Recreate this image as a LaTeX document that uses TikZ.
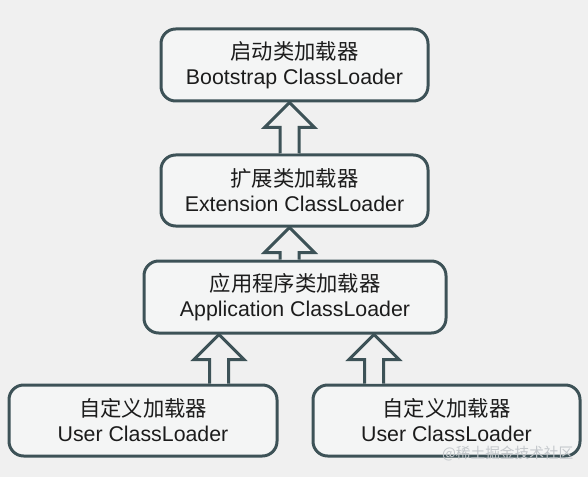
\documentclass[tikz,border=0pt]{standalone}
\usepackage{fontspec}
\setmainfont{Liberation Sans}
\newfontfamily\cjk{Noto Sans CJK SC}
\usetikzlibrary{calc}
\definecolor{bgc}{HTML}{F0F0F0}
\definecolor{boxfill}{HTML}{F4F5F5}
\definecolor{edge}{HTML}{3D5257}
\definecolor{txt}{HTML}{1C1C1C}
\definecolor{wm}{HTML}{C4C8CC}
\tikzset{
  loaderbox/.style={draw=edge, line width=2.25pt, fill=boxfill, rounded corners=11pt,
    align=center, text=txt, font=\fontsize{16}{18.75}\selectfont, inner sep=0pt},
  fat/.style={draw=edge, line width=2.25pt, fill=bgc, line join=miter}
}
\newcommand\fatup[2]{%
  \draw[fat] let \p1=(#1), \p2=(#2) in
    (\x1-7.125pt,\y1) -- (\x1-7.125pt,\y2-18.75pt) -- (\x1-18.75pt,\y2-18.75pt)
    -- (\x2,\y2) -- (\x1+18.75pt,\y2-18.75pt) -- (\x1+7.125pt,\y2-18.75pt)
    -- (\x1+7.125pt,\y1);}
\begin{document}
\begin{tikzpicture}[x=0.75pt,y=-0.75pt]
\fill[bgc] (0,0) rectangle (588,477);
\useasboundingbox (0,0) rectangle (588,477);
\node[loaderbox, minimum width=200.25pt, minimum height=54pt] (boot) at (294.5,65)
  {{\cjk 启动类加载器}\\Bootstrap ClassLoader};
\node[loaderbox, minimum width=200.25pt, minimum height=53.25pt] (ext) at (294.5,190.5)
  {{\cjk 扩展类加载器}\\Extension ClassLoader};
\node[loaderbox, minimum width=226.5pt, minimum height=54pt] (app) at (295,297)
  {{\cjk 应用程序类加载器}\\Application ClassLoader};
\node[loaderbox, minimum width=201pt, minimum height=53.25pt] (user1) at (143,420.5)
  {{\cjk 自定义加载器}\\User ClassLoader};
\node[loaderbox, minimum width=200.25pt, minimum height=53.25pt] (user2) at (446.5,420.5)
  {{\cjk 自定义加载器}\\User ClassLoader};
\coordinate (c1) at (289.5,0);
\coordinate (c3) at (219,0);
\coordinate (c4) at (374,0);
\fatup{ext.north -| c1}{boot.south -| c1}
\fatup{app.north -| c1}{ext.south -| c1}
\fatup{user1.north -| c3}{app.south -| c3}
\fatup{user2.north -| c4}{app.south -| c4}
\node[text=wm, font=\cjk\fontsize{11}{12}\selectfont, anchor=east] (wmark) at (578,454) {@稀土掘金技术社区};
\end{tikzpicture}
\end{document}
